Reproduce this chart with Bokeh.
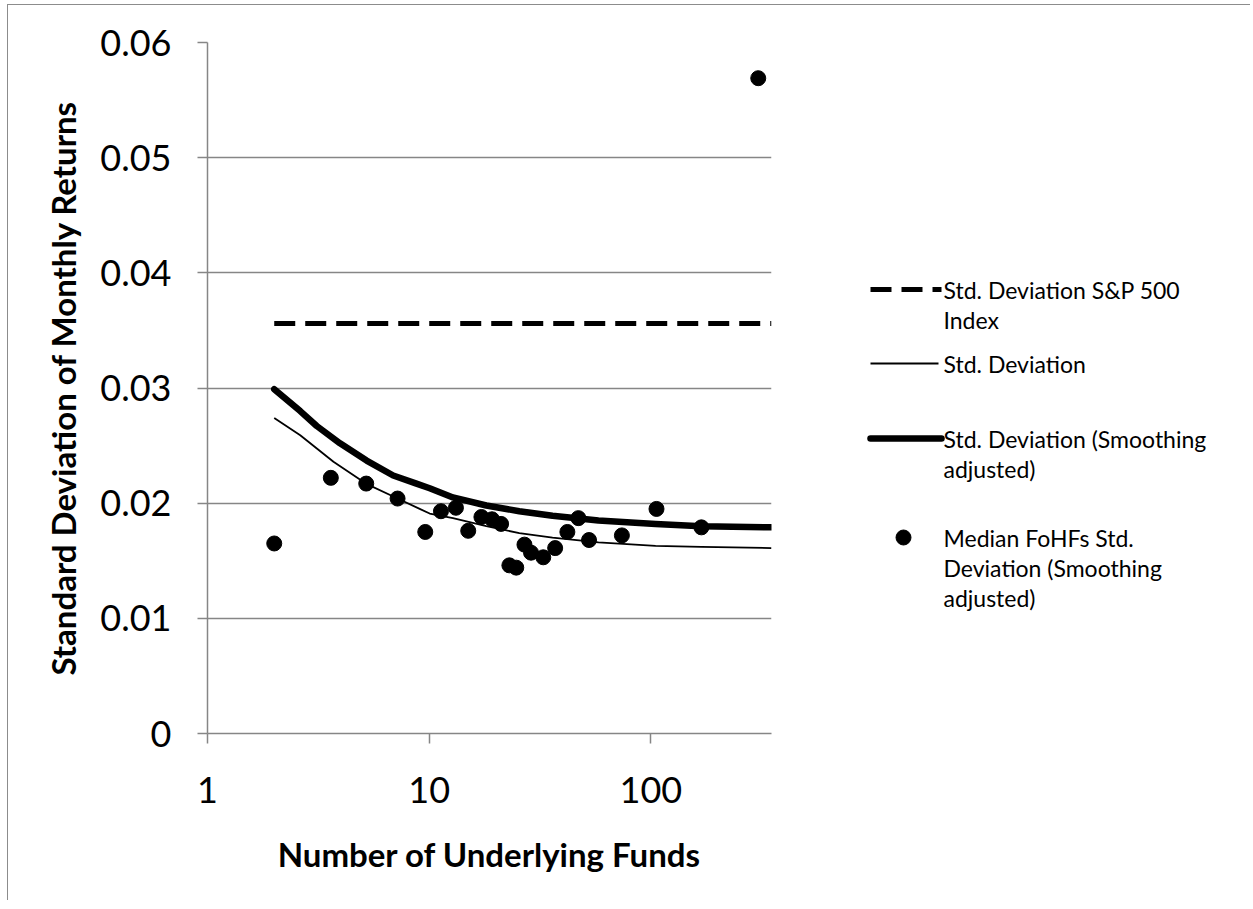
from bokeh.plotting import figure
from bokeh.layouts import row, column
from bokeh.models import Range1d, FixedTicker, Spacer
from bokeh.core.properties import value
from bokeh.embed import file_html
from bokeh.resources import INLINE

# ---------------- data ----------------
fohf_n = [2.0, 3.6, 5.2, 7.2, 9.6, 11.3, 13.2, 15.0, 17.2, 19.2, 21.1, 23.0, 24.7,
          26.9, 28.8, 32.7, 37.0, 42.0, 47.1, 52.6, 74.0, 106.0, 169.0, 305.0]
fohf_sd = [0.0165, 0.0222, 0.0217, 0.0204, 0.0175, 0.0193, 0.0196, 0.0176, 0.0188,
           0.0186, 0.0182, 0.0146, 0.0144, 0.0164, 0.0157, 0.0153, 0.0161, 0.0175,
           0.0187, 0.0168, 0.0172, 0.0195, 0.0179, 0.0569]

sd_n = [2.0, 2.62, 3.7, 5.18, 7.2, 9.06, 10.05, 12.8, 18.1, 25.5, 36.0, 58.0, 105.0, 169.0, 350.0]
sd_vals = [0.0274, 0.0259, 0.0236, 0.0217, 0.0204, 0.0195, 0.0191, 0.0187, 0.0180,
           0.0174, 0.0170, 0.0166, 0.0163, 0.0162, 0.0161]

sdadj_n = [2.0, 2.62, 3.11, 3.96, 5.22, 6.88, 8.76, 10.05, 12.8, 18.1, 25.5, 36.0, 58.0, 105.0, 169.0, 350.0]
sdadj_vals = [0.0299, 0.0280, 0.0267, 0.0252, 0.0237, 0.0224, 0.0217, 0.0213, 0.0205,
              0.0198, 0.0193, 0.0189, 0.0185, 0.0182, 0.0180, 0.0179]

sp_n = [2.0, 350.0]
sp_sd = [0.0356, 0.0356]

y_ticks = [0, 0.01, 0.02, 0.03, 0.04, 0.05, 0.06]
y_tick_labels = ["0", "0.01", "0.02", "0.03", "0.04", "0.05", "0.06"]
x_ticks = [1, 10, 100]
x_tick_labels = ["1", "10", "100"]

legend_sp = ["Std. Deviation S&P 500", "Index"]
legend_sd = ["Std. Deviation"]
legend_adj = ["Std. Deviation (Smoothing", "adjusted)"]
legend_med = ["Median FoHFs Std.", "Deviation (Smoothing", "adjusted)"]

x_title = "Number of Underlying Funds"
y_title = "Standard Deviation of Monthly Returns"

# ---------------- layout constants (page pixels) ----------------
FONT = "Lato"
GRAY = "#868686"
OX, OY = 7, 4              # offset of the chart border from page corner
FRAME_L, FRAME_R = 207, 771
FRAME_T, FRAME_B = 42, 733
H = 900 - OY
MAIN_W = 785 - OX

p = figure(width=MAIN_W, height=H, x_axis_type="log",
           x_range=Range1d(1, 350), y_range=Range1d(0, 0.06),
           output_backend="svg", toolbar_location=None,
           min_border_left=FRAME_L - OX - 1, min_border_right=MAIN_W - (FRAME_L - OX - 1) - (FRAME_R - FRAME_L),
           min_border_top=FRAME_T - OY - 1, min_border_bottom=H - (FRAME_T - OY - 1) - (FRAME_B - FRAME_T))
p.outline_line_color = None
p.styles = {"border-top": "1px solid #8c8c8c", "border-left": "1px solid #8c8c8c"}

p.xgrid.grid_line_color = None
p.ygrid.grid_line_color = GRAY
p.ygrid.grid_line_width = 1.5
p.ygrid.ticker = FixedTicker(ticks=y_ticks)

for ax in (p.xaxis[0], p.yaxis[0]):
    ax.axis_line_color = GRAY
    ax.axis_line_width = 1.5
    ax.major_tick_line_color = GRAY
    ax.major_tick_line_width = 1.5
    ax.major_tick_out = 10
    ax.major_tick_in = 0
    ax.minor_tick_line_color = None
    ax.major_label_text_font = FONT
    ax.major_label_text_font_size = "36px"
    ax.major_label_text_color = "black"
    ax.axis_label_text_font = FONT
    ax.axis_label_text_font_size = "33px"
    ax.axis_label_text_font_style = "bold"
    ax.axis_label_text_color = "black"

p.yaxis.ticker = FixedTicker(ticks=y_ticks)
p.yaxis.major_label_overrides = {t: l for t, l in zip(y_ticks, y_tick_labels)}
p.yaxis.major_label_standoff = 26
p.yaxis.axis_label = y_title
p.yaxis.axis_label_standoff = 14

p.xaxis.ticker = FixedTicker(ticks=x_ticks)
p.xaxis.major_label_overrides = {t: l for t, l in zip(x_ticks, x_tick_labels)}
p.xaxis.major_label_standoff = 33
p.xaxis.axis_label = x_title
p.xaxis.axis_label_standoff = 28

p.line(sp_n, sp_sd, line_color="black", line_width=5, line_dash="21 10")
p.line(sd_n, sd_vals, line_color="black", line_width=1.8, line_join="round")
p.line(sdadj_n, sdadj_vals, line_color="black", line_width=6.5, line_join="round", line_cap="round")
p.scatter(fohf_n, fohf_sd, size=15, fill_color="black", line_color="black")

# ---------------- legend panel (its frame is aligned with the main frame vertically) ----------------
LEG_X0 = OX + MAIN_W
LEG_W = 1250 - LEG_X0
lg = figure(width=LEG_W, height=H, x_range=Range1d(LEG_X0, LEG_X0 + LEG_W),
            y_range=Range1d(FRAME_B, FRAME_T),
            x_axis_location=None, y_axis_location=None, output_backend="svg",
            toolbar_location=None, min_border=0)
lg.outline_line_color = None
lg.grid.visible = False
lg.styles = {"border-top": "1px solid #8c8c8c"}

TX = 943
LH = 30


def add_text(lines, y_first):
    lg.text(x=[TX] * len(lines), y=[y_first + i * LH for i in range(len(lines))], text=lines,
            text_font=value(FONT), text_font_size="23px", text_color="black",
            text_baseline="middle", text_align="left")


lg.line([870, 941], [289, 289], line_color="black", line_width=5, line_dash="21 10")
add_text(legend_sp, 289)
lg.line([870, 938], [363, 363], line_color="black", line_width=1.8)
add_text(legend_sd, 363)
lg.line([870, 941], [438, 438], line_color="black", line_width=6.5, line_cap="round")
add_text(legend_adj, 438)
lg.scatter([903], [537], size=15, fill_color="black", line_color="black")
add_text(legend_med, 537)

layout = column(Spacer(height=OY), row(Spacer(width=OX), p, lg, spacing=0), spacing=0)
open("out.html", "w").write(file_html(layout, INLINE))
